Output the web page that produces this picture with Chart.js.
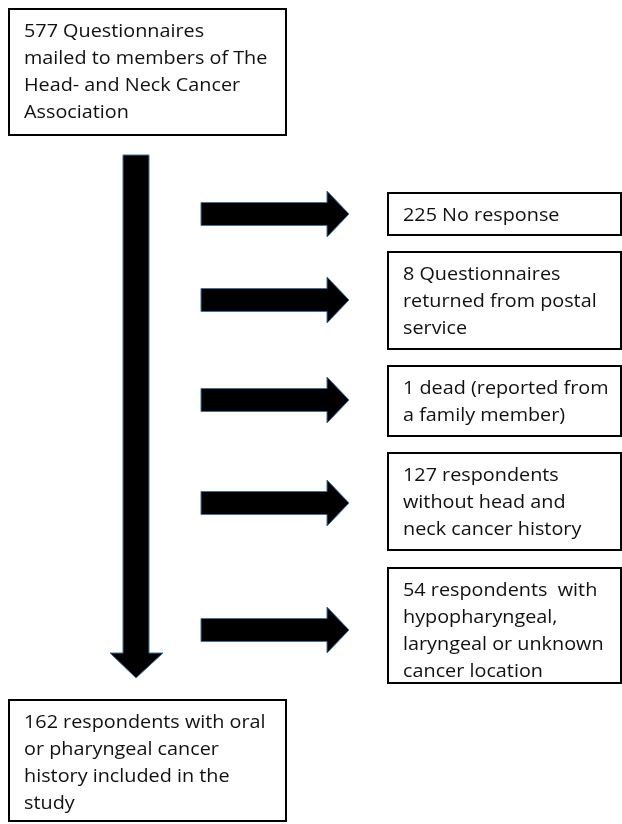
<!DOCTYPE html>
<html>
<head>
<meta charset="utf-8">
<script src="https://cdn.jsdelivr.net/npm/chart.js@4.4.1/dist/chart.umd.min.js"></script>
<style>
  html, body { margin: 0; padding: 0; background: #fff; }
  #flow { display: block; }
</style>
</head>
<body>
<canvas id="flow" width="622" height="824"></canvas>
<script>
// counts
const mailedCount = 577;
const includedCount = 162;
const excludedCounts = [225, 8, 1, 127, 54];

// text (line breaks as in the original figure)
const mailedLines = ['Questionnaires', 'mailed to members of The', 'Head- and Neck Cancer', 'Association'];
const includedLines = ['respondents with oral', 'or pharyngeal cancer', 'history included in the', 'study'];
const excludedLines = [
    ['No response'],
    ['Questionnaires', 'returned from postal', 'service'],
    ['dead (reported from', 'a family member)'],
    ['respondents', 'without head and', 'neck cancer history'],
    ['respondents  with', 'hypopharyngeal,', 'laryngeal or unknown', 'cancer location']
];

// layout (in figure units = px of the original)
const leftBox = { x0: 9, x1: 286 };
const rightBox = { x0: 388, x1: 621 };
const mailedBox = { y0: 9, y1: 135 };
const includedBox = { y0: 700, y1: 821 };
const excludedBoxes = [[193, 235], [252, 349], [366, 436], [453, 550], [568, 683]];
const sideArrowY = [214, 300, 400, 503, 630];
const lineGap = 27;
const fontSpec = '18px "Open Sans", Lato, sans-serif';
const textStretch = 1.1;   // original font is wider than Open Sans

const withCount = (count, lines) => [count + ' ' + lines[0], ...lines.slice(1)];

const flowPlugin = {
    id: 'flow',
    afterDraw(chart) {
        const ctx = chart.ctx;
        const sx = chart.scales.x, sy = chart.scales.y;
        const px = v => sx.getPixelForValue(v);
        const py = v => sy.getPixelForValue(v);

        const drawBox = (x0, x1, y0, y1, lines) => {
            ctx.save();
            ctx.lineWidth = 2;
            ctx.strokeStyle = '#000';
            ctx.strokeRect(px(x0), py(y0), px(x1) - px(x0), py(y1) - py(y0));
            ctx.fillStyle = '#111';
            ctx.font = fontSpec;
            ctx.textBaseline = 'alphabetic';
            lines.forEach((t, i) => {
                ctx.save();
                ctx.translate(px(x0 + 15), py(y0 + 28 + i * lineGap));
                ctx.scale(textStretch, 1);
                ctx.fillText(t, 0, 0);
                ctx.restore();
            });
            ctx.restore();
        };

        const drawPoly = pts => {
            ctx.save();
            ctx.beginPath();
            pts.forEach(([x, y], i) => i ? ctx.lineTo(px(x), py(y)) : ctx.moveTo(px(x), py(y)));
            ctx.closePath();
            ctx.fillStyle = '#000';
            ctx.fill();
            ctx.lineWidth = 1;
            ctx.strokeStyle = '#41719c';
            ctx.stroke();
            ctx.restore();
        };

        // main downward arrow
        drawPoly([[123, 155], [149, 155], [149, 653], [163, 653], [136, 678], [110, 653], [123, 653]]);

        // side arrows
        sideArrowY.forEach(cy => {
            drawPoly([[201, cy - 11.5], [327, cy - 11.5], [327, cy - 23], [349, cy],
                      [327, cy + 23], [327, cy + 11.5], [201, cy + 11.5]]);
        });

        drawBox(leftBox.x0, leftBox.x1, mailedBox.y0, mailedBox.y1, withCount(mailedCount, mailedLines));
        excludedCounts.forEach((c, i) => {
            const [y0, y1] = excludedBoxes[i];
            drawBox(rightBox.x0, rightBox.x1, y0, y1, withCount(c, excludedLines[i]));
        });
        drawBox(leftBox.x0, leftBox.x1, includedBox.y0, includedBox.y1, withCount(includedCount, includedLines));
    }
};

new Chart(document.getElementById('flow'), {
    type: 'scatter',
    data: { datasets: [{ data: [], pointRadius: 0 }] },
    options: {
        responsive: false,
        animation: false,
        devicePixelRatio: 1,
        layout: { padding: 0 },
        plugins: { legend: { display: false }, tooltip: { enabled: false } },
        scales: {
            x: { type: 'linear', min: 0, max: 622, display: false },
            y: { type: 'linear', min: 0, max: 824, reverse: true, display: false }
        }
    },
    plugins: [flowPlugin]
});
</script>
</body>
</html>
